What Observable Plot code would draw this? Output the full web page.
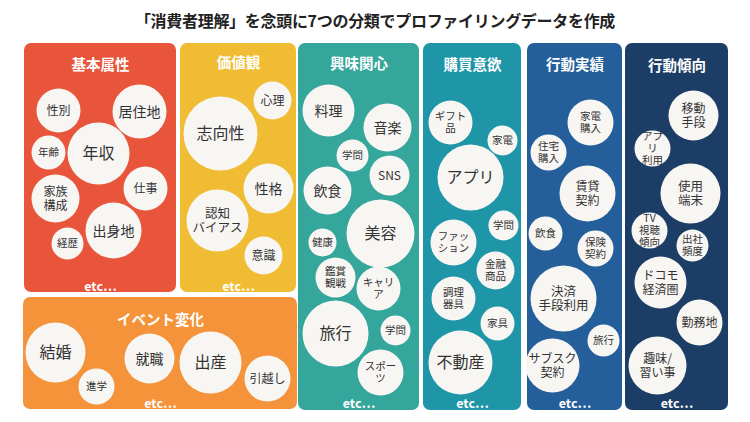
<!DOCTYPE html>
<html><head><meta charset="utf-8">
<script src="https://cdn.jsdelivr.net/npm/d3@7"></script>
<script src="https://cdn.jsdelivr.net/npm/@observablehq/plot@0.6"></script>
<style>
body{margin:0;background:#fff;font-family:"Noto Sans CJK JP",sans-serif;}
#title{height:40px;line-height:40px;text-align:center;font-size:16px;font-weight:bold;color:#222;letter-spacing:-0.3px}
</style></head><body>
<div id="title">「消費者理解」を念頭に7つの分類でプロファイリングデータを作成</div>
<div id="chart"></div>
<script>
// categories (panels)
const panelNames = ["基本属性","価値観","興味関心","購買意欲","行動実績","行動傾向","イベント変化"];
const panelX1 = [24, 180, 298, 423, 527, 625, 23];
const panelX2 = [176, 296, 419, 521, 622, 728, 297];
const panelY1 = [43, 43, 43, 43, 43, 43, 297];
const panelY2 = [292, 292, 410, 410, 410, 410, 409];
const panelColors = ["#E8553B","#F0BC33","#35A69B","#1F95A8","#245F9B","#1C3E66","#F5933A"];
const panelTitleY = [65, 63, 64, 65, 65, 66, 320];
const etcY = [286, 286, 403, 403, 403, 403, 403];

// bubbles: panel index, label, center x, center y, radius
const bubblePanel = [0,0,0,0,0,0,0,0, 1,1,1,1,1, 2,2,2,2,2,2,2,2,2,2,2,2, 3,3,3,3,3,3,3,3,3, 4,4,4,4,4,4,4,4, 5,5,5,5,5,5,5,5, 6,6,6,6,6];
const bubbleLabels = [
  "性別","居住地","年齢","年収","仕事","家族\n構成","出身地","経歴",
  "心理","志向性","性格","認知\nバイアス","意識",
  "料理","音楽","学問","SNS","飲食","美容","健康","鑑賞\n観戦","キャリ\nア","旅行","学問","スポー\nツ",
  "ギフト\n品","家電","アプリ","学問","ファッ\nション","金融\n商品","調理\n器具","家具","不動産",
  "家電\n購入","住宅\n購入","賃貸\n契約","飲食","保険\n契約","決済\n手段利用","旅行","サブスク\n契約",
  "移動\n手段","アプ\nリ\n利用","使用\n端末","TV\n視聴\n傾向","出社\n頻度","ドコモ\n経済圏","勤務地","趣味/\n習い事",
  "結婚","進学","就職","出産","引越し"
];
const bubbleX = [
  58,139,48,98,145,55,113,67,
  272,220,268,217,263,
  328,387,352,389,327,380,322,335,378,335,395,380,
  450,502,470,503,453,495,453,497,460,
  590,548,587,545,595,563,603,552,
  693,652,690,649,692,660,699,657,
  55,96,149,210,267
];
const bubbleY = [
  110,111,152,153,188,198,230,243,
  100,133,188,220,255,
  110,127,155,175,190,233,242,277,288,333,330,372,
  122,140,177,225,242,270,298,323,362,
  122,152,193,233,248,298,340,365,
  115,148,193,230,245,282,322,365,
  352,386,358,362,378
];
const bubbleR = [
  22,27,17,31,22,24,28,16,
  19,37,25,31,19,
  26,24,16,20,24,34,14,20,22,33,15,23,
  22,15,33,15,23,19,22,17,32,
  23,18,28,17,18,33,16,27,
  25,18,30,18,16,26,23,29,
  30,18,25,31,23
];

const panels = panelNames.map((name, i) => ({
  name, x1: panelX1[i], x2: panelX2[i], y1: panelY1[i], y2: panelY2[i],
  color: panelColors[i], tx: (panelX1[i] + panelX2[i]) / 2, ty: panelTitleY[i], ey: etcY[i]
}));
const bubbles = bubbleLabels.map((label, i) => ({
  label, panel: bubblePanel[i], x: bubbleX[i], y: bubbleY[i], r: bubbleR[i]
}));

function labelSize(d) {
  const lines = d.label.split("\n").length;
  if (lines > 1) return d.r >= 30 ? 12.5 : d.r >= 24 ? 12 : 10.5;
  if (d.r >= 30) return 16;
  if (d.r >= 24) return 14;
  if (d.r >= 19) return 12;
  return 10.5;
}

const chart = Plot.plot({
  width: 750,
  height: 382,
  margin: 0,
  x: {domain: [0, 750], range: [0, 750], axis: null},
  y: {domain: [40, 422], range: [0, 382], axis: null},
  r: {type: "identity"},
  color: {type: "identity"},
  style: {fontFamily: '"Noto Sans CJK JP", sans-serif', background: "#fff"},
  marks: [
    Plot.rect(panels, {x1: "x1", x2: "x2", y1: "y1", y2: "y2", fill: "color", rx: 7}),
    Plot.dot(bubbles, {x: "x", y: "y", r: "r", fill: "#f8f6f3", stroke: null}),
    Plot.text(bubbles, {x: "x", y: "y", text: "label", fontSize: labelSize, fill: "#333", lineHeight: 1.15}),
    Plot.text(panels, {x: "tx", y: "ty", text: "name", fill: "#fff", fontSize: 14.5, fontWeight: "bold"}),
    Plot.text(panels, {x: "tx", y: "ey", text: () => "etc…", fill: "#fff", fontSize: 12.5, fontWeight: "bold"})
  ]
});
document.getElementById("chart").appendChild(chart);
</script>
</body></html>
